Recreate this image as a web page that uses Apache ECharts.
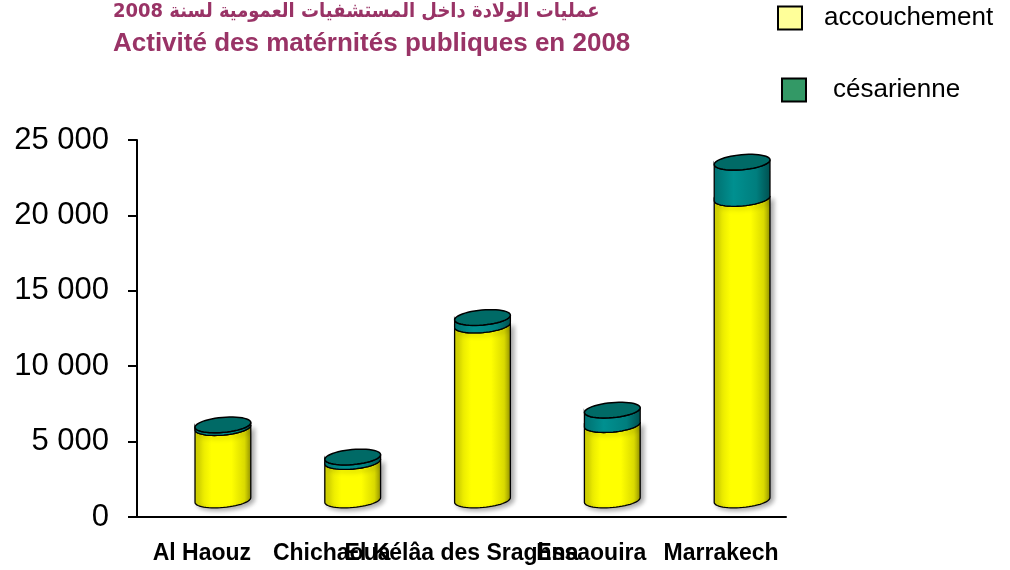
<html>
<head>
<meta charset="utf-8">
<script src="https://cdn.jsdelivr.net/npm/echarts@6/dist/echarts.min.js"></script>
</head>
<body style="margin:0">
<div id="main" style="width:1010px;height:570px"></div>
<script>
var categories = ['Al Haouz', 'Chichaoua', 'El Kélâa des Sraghna', 'Essaouira', 'Marrakech'];
var accouchement = [4800, 2550, 11600, 5000, 20000];
var cesarienne = [180, 300, 500, 960, 2400];
var yTicks = [0, 5000, 10000, 15000, 20000, 25000];

// pseudo-3D offsets of the cylinders (px)
var DX = 21, DY = -17, RX = 28, RY = 7.5, TILT = -0.09;

function ellipsePt(cx, cy, th) {
    var x = RX * Math.cos(th), y = RY * Math.sin(th);
    return [cx + x * Math.cos(TILT) - y * Math.sin(TILT), cy + x * Math.sin(TILT) + y * Math.cos(TILT)];
}
function bodyPoints(cx, yTop, yBot) {
    var pts = [], n = 28, k;
    for (k = 0; k <= n; k++) pts.push(ellipsePt(cx, yTop, Math.PI * k / n));
    for (k = n; k >= 0; k--) pts.push(ellipsePt(cx, yBot, Math.PI * k / n));
    return pts;
}
function capPoints(cx, cy) {
    var pts = [], n = 48;
    for (var k = 0; k < n; k++) pts.push(ellipsePt(cx, cy, 2 * Math.PI * k / n));
    return pts;
}

var yellowFill = new echarts.graphic.LinearGradient(0, 0, 1, 0, [
    { offset: 0, color: '#d6d600' }, { offset: 0.3, color: '#ffff00' },
    { offset: 0.65, color: '#ffff00' }, { offset: 0.88, color: '#dada00' },
    { offset: 1, color: '#8f8f00' }
]);
var tealFill = new echarts.graphic.LinearGradient(0, 0, 1, 0, [
    { offset: 0, color: '#006f6f' }, { offset: 0.35, color: '#009090' },
    { offset: 0.75, color: '#007e7e' }, { offset: 1, color: '#004f4f' }
]);

var accData = accouchement.map(function (v, i) { return [i, v]; });
var cesData = cesarienne.map(function (v, i) { return [i, accouchement[i], v]; });

var chart = echarts.init(document.getElementById('main'));

chart.setOption({
    animation: false,
    title: {
        text: '{ar|عمليات الولادة داخل المستشفيات العمومية لسنة 2008}\n{fr|Activité des matérnités publiques en 2008}',
        left: 113,
        top: -4,
        padding: 0,
        textStyle: {
            fontSize: 26, fontWeight: 'bold', color: '#993366', lineHeight: 32,
            rich: {
                ar: { fontFamily: 'DejaVu Sans Condensed', fontSize: 20, fontWeight: 'bold', color: '#993366', lineHeight: 32 },
                fr: { fontFamily: 'Liberation Sans', fontSize: 26, fontWeight: 'bold', color: '#993366', lineHeight: 32 }
            }
        }
    },
    legend: [{
        left: 777, top: 5, padding: 0, icon: 'rect', itemWidth: 24, itemHeight: 23,
        selectedMode: false,
        data: [{ name: 'accouchement', itemStyle: { color: '#ffff99', borderColor: '#000', borderWidth: 2 } }],
        textStyle: { fontFamily: 'Liberation Sans', fontSize: 26, color: '#000', padding: [0, 0, 0, 17] }
    }, {
        left: 781, top: 77, padding: 0, icon: 'rect', itemWidth: 24, itemHeight: 23,
        selectedMode: false,
        data: [{ name: 'césarienne', itemStyle: { color: '#339966', borderColor: '#000', borderWidth: 2 } }],
        textStyle: { fontFamily: 'Liberation Sans', fontSize: 26, color: '#000', padding: [0, 0, 0, 22] }
    }],
    grid: { left: 137, right: 224, top: 140, bottom: 53 },
    xAxis: {
        type: 'category',
        data: categories,
        axisLine: { lineStyle: { color: '#000', width: 2 } },
        axisTick: { length: 8, lineStyle: { color: '#000', width: 2 } },
        axisLabel: { interval: 0, margin: 25, color: '#000', fontFamily: 'Liberation Sans', fontSize: 23, fontWeight: 'bold' }
    },
    yAxis: {
        type: 'value',
        min: 0, max: 25000, interval: 5000,
        axisLine: { show: true, lineStyle: { color: '#000', width: 2 } },
        axisTick: { show: true, length: 9, lineStyle: { color: '#000', width: 2 } },
        splitLine: { show: false },
        axisLabel: {
            margin: 28, color: '#000', fontFamily: 'Liberation Sans', fontSize: 31,
            customValues: yTicks,
            formatter: function (v) { return String(v).replace(/\B(?=(\d{3})+(?!\d))/g, ' '); }
        }
    },
    series: [{
        name: 'accouchement',
        type: 'custom',
        itemStyle: { color: '#ffff99' },
        data: accData,
        encode: { x: 0, y: 1 },
        renderItem: function (params, api) {
            var i = api.value(0);
            var p0 = api.coord([i, 0]);
            var p1 = api.coord([i, api.value(1)]);
            var cx = p0[0] + DX;
            return {
                type: 'polygon',
                shape: { points: bodyPoints(cx, p1[1] + DY, p0[1] + DY) },
                style: {
                    fill: yellowFill, stroke: '#000', lineWidth: 1.3,
                    shadowBlur: 5, shadowOffsetX: 3, shadowOffsetY: 2, shadowColor: 'rgba(0,0,0,0.35)'
                }
            };
        }
    }, {
        name: 'césarienne',
        type: 'custom',
        itemStyle: { color: '#339966' },
        data: cesData,
        encode: { x: 0, y: 1 },
        renderItem: function (params, api) {
            var i = api.value(0);
            var a = api.value(1), c = api.value(2);
            var p0 = api.coord([i, a]);
            var p1 = api.coord([i, a + c]);
            var cx = p0[0] + DX;
            return {
                type: 'group',
                children: [{
                    type: 'polygon',
                    shape: { points: bodyPoints(cx, p1[1] + DY, p0[1] + DY) },
                    style: { fill: tealFill, stroke: '#000', lineWidth: 1.3 }
                }, {
                    type: 'polygon',
                    shape: { points: capPoints(cx, p1[1] + DY) },
                    style: { fill: '#006a66', stroke: '#000', lineWidth: 1.5 }
                }]
            };
        }
    }]
});

window.onresize = chart.resize;
</script>
</body>
</html>
